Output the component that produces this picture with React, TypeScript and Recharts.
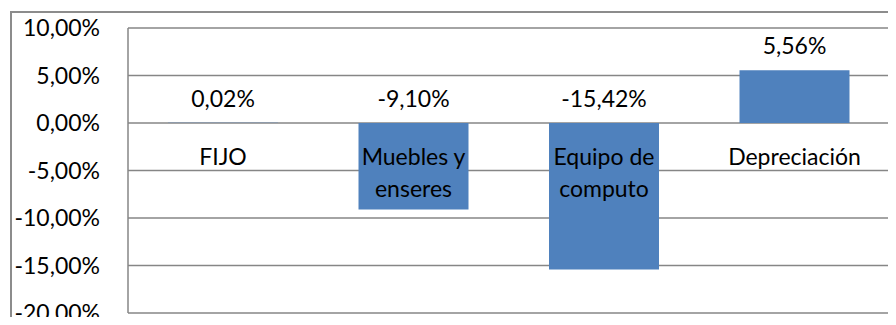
import React from 'react'
import { BarChart, Bar, XAxis, YAxis, CartesianGrid, LabelList } from 'recharts';

const categories = ['FIJO', 'Muebles y enseres', 'Equipo de computo', 'Depreciación'];
const variation = [0.02, -9.10, -15.42, 5.56];
const yTicks = [-20, -15, -10, -5, 0, 5, 10];

const data = categories.map((name, i) => ({ name, value: variation[i] }));

const FONT = 'Lato, "Open Sans", sans-serif';
const GRID = '#868686';

function pct(v: number) {
    return v.toFixed(2).replace('.', ',') + '%';
}

// simple word wrap so the long names break like in the original
function wrap(text: string, max: number) {
    const lines: string[] = [];
    let cur = '';
    text.split(' ').forEach(w => {
        const next = cur ? cur + ' ' + w : w;
        if (next.length > max && cur) {
            lines.push(cur);
            cur = w;
        } else {
            cur = next;
        }
    });
    if (cur) lines.push(cur);
    return lines;
}

function zeroOf(props: any) {
    const y = Number(props.y), h = Number(props.height);
    const top = Math.min(y, y + h), bottom = Math.max(y, y + h);
    return { top, bottom };
}

function ValueLabel(props: any) {
    const { x, width, value } = props;
    const { top, bottom } = zeroOf(props);
    const base = value >= 0 ? top : top;
    return (
        <text x={Number(x) + Number(width) / 2} y={base - 22} textAnchor="middle" dominantBaseline="middle"
            fontFamily={FONT} fontSize={23} fill="#000">
            {pct(value)}
        </text>
    );
}

function NameLabel(props: any) {
    const { x, width, value, index } = props;
    const { top, bottom } = zeroOf(props);
    const zero = variation[index] >= 0 ? bottom : top;
    const lines = wrap(String(value), 12);
    return (
        <text x={Number(x) + Number(width) / 2} y={zero + 36} textAnchor="middle" dominantBaseline="middle"
            fontFamily={FONT} fontSize={23} fill="#000">
            {lines.map((l, i) => (
                <tspan key={i} x={Number(x) + Number(width) / 2} dy={i === 0 ? 0 : 32}>{l}</tspan>
            ))}
        </text>
    );
}

export default function App() {
    return (
        <div style={{ position: 'relative', margin: -8, width: 896, height: 325, overflow: 'hidden', background: '#fff' }}>
            <div style={{ position: 'absolute', left: 10, top: 11, width: 900, height: 400, borderLeft: '2px solid #8c8c8c', borderTop: '2px solid #8c8c8c' }} />
            <BarChart width={896} height={325} data={data} barCategoryGap="21%"
                margin={{ top: 28, right: 6, bottom: 12, left: 0 }} style={{ position: 'absolute', left: 0, top: 0 }}>
                <CartesianGrid vertical={false} stroke={GRID} strokeWidth={1.5} />
                <XAxis dataKey="name" hide />
                <YAxis width={128} domain={[-20, 10]} ticks={yTicks} tickFormatter={pct} tickLine={false}
                    axisLine={{ stroke: GRID, strokeWidth: 1.5 }} tickMargin={22} interval={0}
                    tick={{ fill: '#000', fontFamily: FONT, fontSize: 23 }} />
                <Bar dataKey="value" fill="#4F81BD" isAnimationActive={false}>
                    <LabelList dataKey="value" content={ValueLabel} />
                    <LabelList dataKey="name" content={NameLabel} />
                </Bar>
            </BarChart>
        </div>
    );
}
